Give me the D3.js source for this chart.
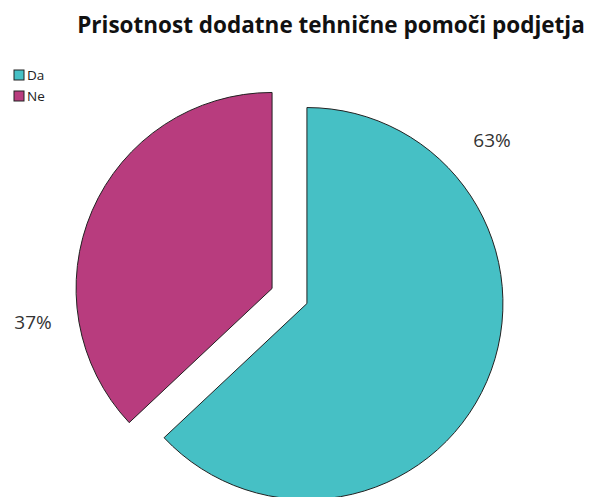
<!DOCTYPE html>
<html>
<head>
<meta charset="utf-8">
<script src="https://cdn.jsdelivr.net/npm/d3@7"></script>
<style>
  html, body { margin: 0; padding: 0; background: #fff; }
  svg { display: block; }
</style>
</head>
<body>
<svg id="chart" width="590" height="497"></svg>
<script>
const title = "Prisotnost dodatne tehnične pomoči podjetja";
const categories = ["Da", "Ne"];
const values = [63, 37];
const valueLabels = ["63%", "37%"];
const colors = ["#46C0C5", "#B83C7E"];

const W = 590, H = 497;
const svg = d3.select("#chart");

// Title
svg.append("text")
  .attr("x", 331)
  .attr("y", 33)
  .attr("text-anchor", "middle")
  .attr("font-family", "'Open Sans', sans-serif")
  .attr("font-weight", "bold")
  .attr("font-size", 22.5)
  .attr("fill", "#111")
  .text(title);

// Legend
const legend = svg.append("g").attr("transform", "translate(14,70)");
categories.forEach((c, i) => {
  const g = legend.append("g").attr("transform", `translate(0,${i * 21})`);
  g.append("rect")
    .attr("width", 10).attr("height", 10)
    .attr("fill", colors[i])
    .attr("stroke", "#222").attr("stroke-width", 1);
  g.append("text")
    .attr("x", 13).attr("y", 10)
    .attr("font-family", "'Open Sans', sans-serif")
    .attr("font-size", 13.5)
    .attr("fill", "#222")
    .text(c);
});

// Pie, each slice pulled out along its mid-angle
const cx = 289.5, cy = 296, r = 196, explode = 19;
const pie = d3.pie().sort(null).value(d => d)(values);
const arc = d3.arc().innerRadius(0).outerRadius(r);

const slices = svg.append("g").attr("transform", `translate(${cx},${cy})`);
slices.selectAll("path")
  .data(pie)
  .join("path")
  .attr("transform", d => {
    const a = (d.startAngle + d.endAngle) / 2;
    return `translate(${explode * Math.sin(a)},${-explode * Math.cos(a)})`;
  })
  .attr("d", arc)
  .attr("fill", (d, i) => colors[i])
  .attr("stroke", "#222")
  .attr("stroke-width", 1);

// Percentage labels
const labelPos = [[492, 147], [33, 329]];
valueLabels.forEach((t, i) => {
  svg.append("text")
    .attr("x", labelPos[i][0])
    .attr("y", labelPos[i][1])
    .attr("text-anchor", "middle")
    .attr("font-family", "'Open Sans', sans-serif")
    .attr("font-size", 19)
    .attr("fill", "#333")
    .text(t);
});
</script>
</body>
</html>
